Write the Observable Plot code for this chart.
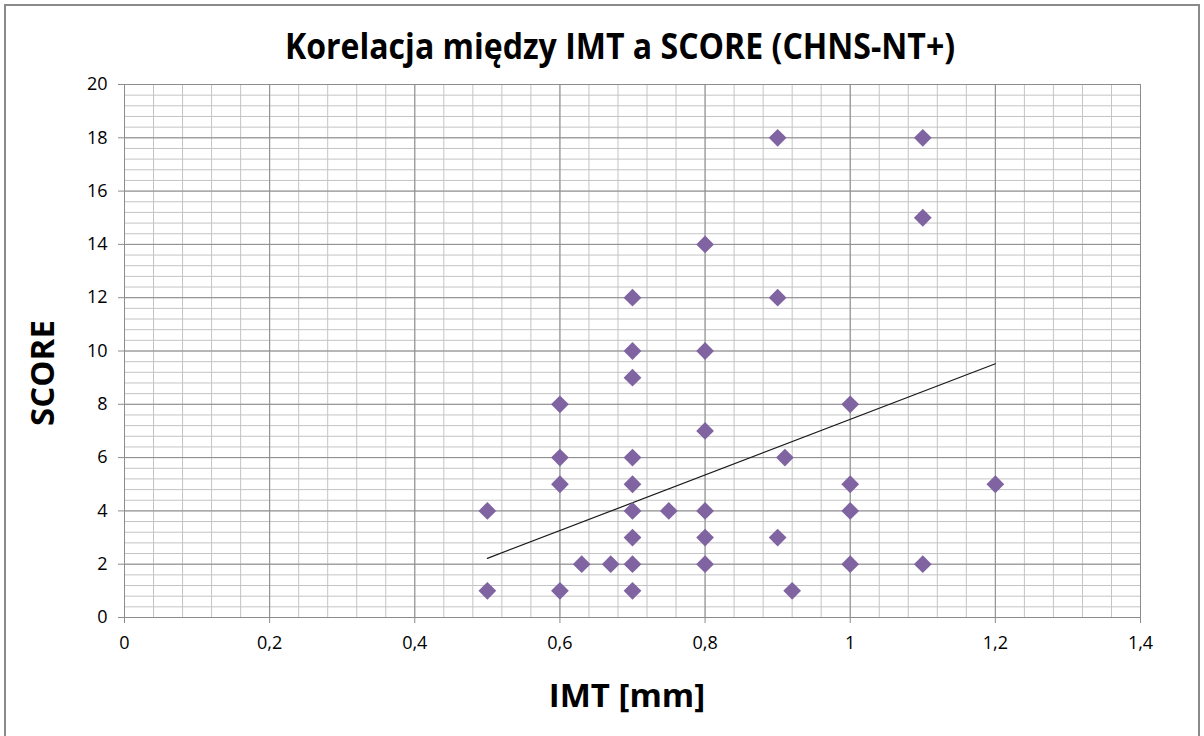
<!DOCTYPE html>
<html>
<head>
<meta charset="utf-8">
<script src="https://cdn.jsdelivr.net/npm/d3@7"></script>
<script src="https://cdn.jsdelivr.net/npm/@observablehq/plot@0.6"></script>
<style>
  html, body { margin: 0; padding: 0; background: #fff; }
  #wrap { position: relative; width: 1204px; height: 736px; overflow: hidden; }
  #frame { position: absolute; left: 4px; top: 4px; width: 1196px; height: 760px; border: 2px solid #8a8a8a; box-sizing: border-box; }
  #title { position: absolute; left: 620px; top: 24px; transform: translateX(-50%) scaleX(0.89); white-space: nowrap;
           font-family: "Open Sans", sans-serif; font-weight: bold; font-size: 36px; line-height: 44px; color: #000; }
  #xlabel { position: absolute; left: 627px; top: 673px; transform: translateX(-50%); white-space: nowrap;
            font-family: "Open Sans", sans-serif; font-weight: bold; font-size: 33px; line-height: 44px; color: #000; }
  #ylabel { position: absolute; left: 42px; top: 373px; transform: translate(-50%, -50%) rotate(-90deg); white-space: nowrap;
            font-family: "Open Sans", sans-serif; font-weight: bold; font-size: 33px; line-height: 44px; color: #000; }
  #chart { position: absolute; left: 0; top: 0; }
</style>
</head>
<body>
<div id="wrap">
  <div id="frame"></div>
  <div id="chart"></div>
  <div id="title">Korelacja między IMT a SCORE (CHNS-NT+)</div>
  <div id="xlabel">IMT [mm]</div>
  <div id="ylabel">SCORE</div>
</div>
<script>
// IMT [mm] values of the points
const imt = [0.5, 0.5,
  0.6, 0.6, 0.6, 0.6,
  0.63, 0.67,
  0.7, 0.7, 0.7, 0.7, 0.7, 0.7, 0.7, 0.7, 0.7,
  0.75,
  0.8, 0.8, 0.8, 0.8, 0.8, 0.8,
  0.9, 0.9, 0.9,
  0.91, 0.92,
  1, 1, 1, 1,
  1.1, 1.1, 1.1,
  1.2];
// SCORE values of the points
const score = [4, 1,
  8, 6, 5, 1,
  2, 2,
  12, 10, 9, 6, 5, 4, 3, 2, 1,
  4,
  14, 10, 7, 4, 3, 2,
  18, 12, 3,
  6, 1,
  8, 5, 4, 2,
  18, 15, 2,
  5];
// Linear trendline
const trendX = [0.5, 1.2];
const trendY = [2.22, 9.52];
// Axis ticks
const xTicks = [0, 0.2, 0.4, 0.6, 0.8, 1, 1.2, 1.4];
const yTicks = [0, 2, 4, 6, 8, 10, 12, 14, 16, 18, 20];
const xMinorStep = 0.04;
const yMinorStep = 0.4;

const points = imt.map((x, i) => ({x, y: score[i]}));
const trend = trendX.map((x, i) => ({x, y: trendY[i]}));
const xMinor = d3.range(0, 71).map(i => +(i * xMinorStep).toFixed(2)).filter(v => v <= 1.4);
const yMinor = d3.range(0, 51).map(i => +(i * yMinorStep).toFixed(1)).filter(v => v <= 20);
const fmt = d => String(d).replace(".", ",");

const chart = Plot.plot({
  width: 1204,
  height: 736,
  marginLeft: 124,
  marginRight: 64,
  marginTop: 84,
  marginBottom: 119,
  x: {domain: [0, 1.4]},
  y: {domain: [0, 20]},
  style: {fontFamily: "'Open Sans', sans-serif", fontSize: "18px", color: "#000", background: "transparent", overflow: "visible"},
  marks: [
    Plot.ruleX(xMinor, {stroke: "#c4c4c4", strokeWidth: 1}),
    Plot.ruleY(yMinor, {stroke: "#c4c4c4", strokeWidth: 1}),
    Plot.ruleX(xTicks, {stroke: "#8c8c8c", strokeWidth: 1}),
    Plot.ruleY(yTicks, {stroke: "#8c8c8c", strokeWidth: 1}),
    Plot.axisX({ticks: xTicks, tickFormat: fmt, tickSize: 6, tickPadding: 13, label: null, stroke: "#8c8c8c", fill: "#000", fontSize: 18}),
    Plot.axisY({ticks: yTicks, tickFormat: fmt, tickSize: 6, tickPadding: 11, label: null, stroke: "#8c8c8c", fill: "#000", fontSize: 18}),
    Plot.ruleY([0], {stroke: "#8c8c8c"}),
    Plot.ruleX([0], {stroke: "#8c8c8c"}),
    Plot.line(trend, {x: "x", y: "y", stroke: "#1a1a1a", strokeWidth: 1.2}),
    Plot.dot(points, {x: "x", y: "y", symbol: "diamond2", r: 8, fill: "#8064a2", stroke: "none"})
  ]
});
document.getElementById("chart").appendChild(chart);
</script>
</body>
</html>
